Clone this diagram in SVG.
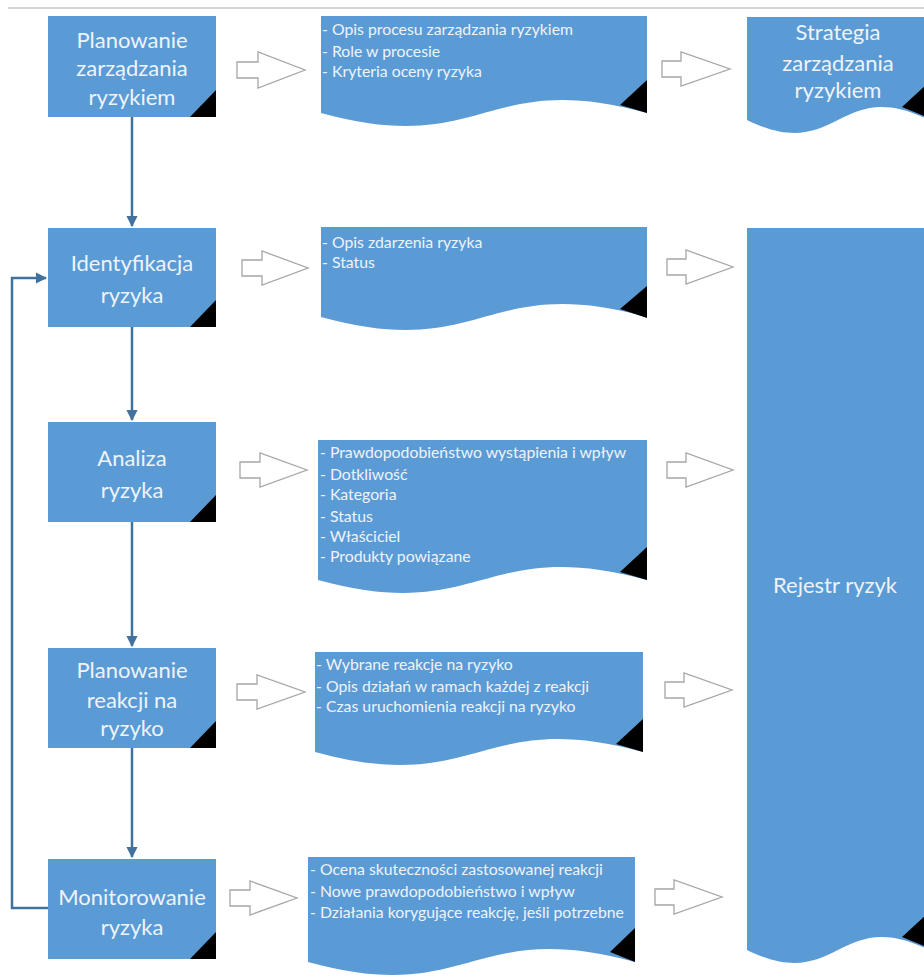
<svg xmlns="http://www.w3.org/2000/svg" width="924" height="979" viewBox="0 0 924 979">
<defs>
<style>
.node{fill:#5b9bd5;}
.corner{fill:#000;}
.t{font-family:Lato,"Open Sans","Liberation Sans",sans-serif;fill:#eef3fa;}
.nt{font-size:22px;text-anchor:middle;}
.dt{font-size:15.8px;}
.blk{fill:#fff;stroke:#a6a6a6;stroke-width:1.3;}
.con{fill:none;stroke:#41719c;stroke-width:2.5;}
</style>
<marker id="ah" viewBox="0 0 10 10" refX="9" refY="5" markerWidth="4.5" markerHeight="4.5" orient="auto" markerUnits="strokeWidth">
<path d="M0,0 L10,5 L0,10 Z" fill="#41719c"/>
</marker>
</defs>
<rect width="924" height="979" fill="#fff"/>
<line x1="8" y1="8" x2="924" y2="8" stroke="#c8c8c8" stroke-width="1.5"/>

<g id="connectors">
<line class="con" x1="132" y1="117" x2="132" y2="226" marker-end="url(#ah)"/>
<line class="con" x1="132" y1="327" x2="132" y2="420" marker-end="url(#ah)"/>
<line class="con" x1="132" y1="522" x2="132" y2="646" marker-end="url(#ah)"/>
<line class="con" x1="132" y1="748" x2="132" y2="857" marker-end="url(#ah)"/>
<polyline class="con" points="48,908 12,908 12,278 46,278" marker-end="url(#ah)"/>
<path class="blk" d="M237,62 H258 V52 L305,70 L258,88 V78 H237 Z"/>
<path class="blk" d="M242,260 H262 V251 L308,268 L262,285 V276 H242 Z"/>
<path class="blk" d="M240,462 H260 V453 L307,470 L260,487 V478 H240 Z"/>
<path class="blk" d="M237,684 H257 V675 L305,692 L257,709 V700 H237 Z"/>
<path class="blk" d="M230,890 H250 V881 L297,898 L250,915 V906 H230 Z"/>
<path class="blk" d="M662,61 H681 V52 L730,69 L681,86 V77 H662 Z"/>
<path class="blk" d="M667,259 H686 V250 L733,267 L686,284 V275 H667 Z"/>
<path class="blk" d="M667,462 H686 V453 L733,470 L686,487 V478 H667 Z"/>
<path class="blk" d="M665,682 H684 V673 L732,690 L684,707 V698 H665 Z"/>
<path class="blk" d="M655,889 H674 V880 L722,897 L674,914 V905 H655 Z"/>
</g>

<g id="n1">
<rect class="node" x="48" y="16" width="168" height="101"/>
<polygon class="corner" points="216,90 216,117 190,117"/>
<text class="t nt" x="132" y="48">Planowanie</text>
<text class="t nt" x="132" y="76">zarządzania</text>
<text class="t nt" x="132" y="105">ryzykiem</text>
</g>
<g id="n2">
<rect class="node" x="48" y="228" width="168" height="99"/>
<polygon class="corner" points="216,300 216,327 190,327"/>
<text class="t nt" x="132" y="271">Identyfikacja</text>
<text class="t nt" x="132" y="303">ryzyka</text>
</g>
<g id="n3">
<rect class="node" x="48" y="422" width="168" height="100"/>
<polygon class="corner" points="216,495 216,522 190,522"/>
<text class="t nt" x="132" y="466">Analiza</text>
<text class="t nt" x="132" y="498">ryzyka</text>
</g>
<g id="n4">
<rect class="node" x="48" y="648" width="168" height="100"/>
<polygon class="corner" points="216,721 216,748 190,748"/>
<text class="t nt" x="132" y="678">Planowanie</text>
<text class="t nt" x="132" y="708">reakcji na</text>
<text class="t nt" x="132" y="736">ryzyko</text>
</g>
<g id="n5">
<rect class="node" x="48" y="859" width="168" height="100"/>
<polygon class="corner" points="216,932 216,959 190,959"/>
<text class="t nt" x="132" y="905">Monitorowanie</text>
<text class="t nt" x="132" y="935">ryzyka</text>
</g>

<g id="d1">
<path class="node" d="M321,16 H647 V113 C484,68 484,158 321,113 Z"/>
<polygon class="corner" points="647,80 647,113 620,105"/>
<text class="t dt" x="322" y="35">- Opis procesu zarządzania ryzykiem</text>
<text class="t dt" x="322" y="57">- Role w procesie</text>
<text class="t dt" x="322" y="77">- Kryteria oceny ryzyka</text>
</g>
<g id="d2">
<path class="node" d="M321,227 H647 V317 C484,272 484,362 321,317 Z"/>
<polygon class="corner" points="647,286 647,318 620,309"/>
<text class="t dt" x="322" y="248">- Opis zdarzenia ryzyka</text>
<text class="t dt" x="322" y="268">- Status</text>
</g>
<g id="d3">
<path class="node" d="M318,440 H647 V580 C482,535 482,625 318,580 Z"/>
<polygon class="corner" points="647,547 647,580 620,572"/>
<text class="t dt" x="320" y="458">- Prawdopodobieństwo wystąpienia i wpływ</text>
<text class="t dt" x="320" y="480">- Dotkliwość</text>
<text class="t dt" x="320" y="500">- Kategoria</text>
<text class="t dt" x="320" y="522">- Status</text>
<text class="t dt" x="320" y="542">- Właściciel</text>
<text class="t dt" x="320" y="562">- Produkty powiązane</text>
</g>
<g id="d4">
<path class="node" d="M315,652 H643 V752 C479,707 479,797 315,752 Z"/>
<polygon class="corner" points="643,719 643,752 616,744"/>
<text class="t dt" x="316" y="670">- Wybrane reakcje na ryzyko</text>
<text class="t dt" x="316" y="692">- Opis działań w ramach każdej z reakcji</text>
<text class="t dt" x="316" y="712">- Czas uruchomienia reakcji na ryzyko</text>
</g>
<g id="d5">
<path class="node" d="M308,857 H635 V962 C471,917 471,1007 308,962 Z"/>
<polygon class="corner" points="635,928 635,962 610,952"/>
<text class="t dt" x="310" y="875">- Ocena skuteczności zastosowanej reakcji</text>
<text class="t dt" x="310" y="897">- Nowe prawdopodobieństwo i wpływ</text>
<text class="t dt" x="310" y="918">- Działania korygujące reakcję, jeśli potrzebne</text>
</g>

<g id="strategia">
<path class="node" d="M747,17 H929 V120 C838,75 838,165 747,120 Z"/>
<polygon class="corner" points="929,82 929,118 902,107"/>
<text class="t nt" x="838" y="40">Strategia</text>
<text class="t nt" x="838" y="71">zarządzania</text>
<text class="t nt" x="838" y="98">ryzykiem</text>
</g>
<g id="rejestr">
<path class="node" d="M747,228 H929 V950 C838,905 838,995 747,950 Z"/>
<polygon class="corner" points="929,912 929,948 902,937"/>
<text class="t nt" x="835" y="593">Rejestr ryzyk</text>
</g>
</svg>
